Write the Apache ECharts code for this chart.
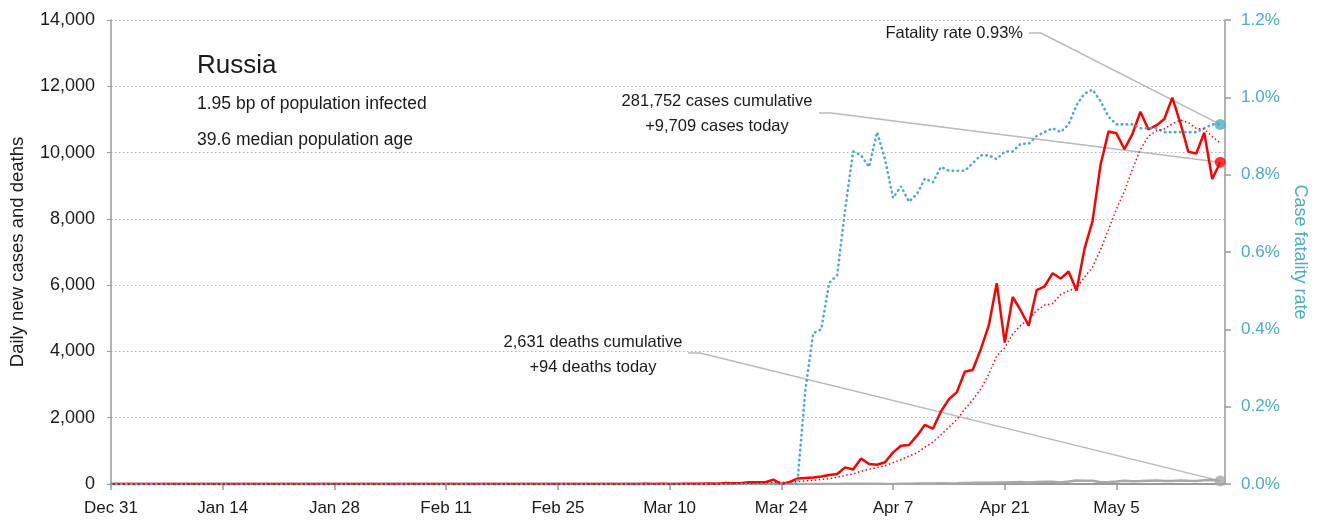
<!DOCTYPE html>
<html><head><meta charset="utf-8">
<script src="https://cdn.jsdelivr.net/npm/echarts@6/dist/echarts.min.js"></script>
<style>html,body{margin:0;padding:0;background:#fff}#c{width:1319px;height:527px}</style>
</head><body><div id="c"></div>
<script>
const FONT = "'Liberation Sans Narrow','Liberation Sans',Arial,sans-serif";
const BLUE = '#4bacc6', RED = '#ff0000', GREY = '#a8a8a8';

// day index 0 = Dec 31, one value per day up to May 18 (index 139)
const xTickDays = [0, 14, 28, 42, 56, 70, 84, 98, 112, 126];
const xTickLabels = ['Dec 31', 'Jan 14', 'Jan 28', 'Feb 11', 'Feb 25', 'Mar 10', 'Mar 24', 'Apr 7', 'Apr 21', 'May 5'];

const cases = [
  0,0,0,0,0,0,0,0,0,0,
  0,0,0,0,0,0,0,0,0,0,
  0,0,0,0,0,0,0,0,0,0,
  0,2,0,0,0,0,0,0,0,0,
  0,0,0,0,0,0,0,0,0,0,
  0,0,0,0,0,0,0,0,0,0,
  0,0,0,1,0,0,1,6,3,4,
  0,3,8,6,11,14,4,30,21,33,
  52,54,53,132,0,57,163,182,196,228,
  270,302,501,440,771,601,582,658,954,1154,
  1175,1459,1786,1667,2186,2558,2774,3388,3448,4070,
  4785,6060,4268,5642,5236,4774,5849,5966,6361,6198,
  6411,5841,7099,7933,9623,10633,10581,10102,10559,11231,
  10699,10817,11012,11656,10899,10028,9974,10598,9200,9709
];

const casesAvg7 = [
  null,null,null,null,null,null,0,0,0,0,
  0,0,0,0,0,0,0,0,0,0,
  0,0,0,0,0,0,0,0,0,0,
  0,0.3,0.3,0.3,0.3,0.3,0.3,0.3,0,0,
  0,0,0,0,0,0,0,0,0,0,
  0,0,0,0,0,0,0,0,0,0,
  0,0,0,0.1,0.1,0.1,0.3,1.1,1.6,2.1,
  2.0,2.4,3.6,4.3,5.0,6.6,6.6,10.9,13.4,17.0,
  23.6,29.7,35.3,53.6,49.3,54.4,73,92,112,137,
  157,200,263,303,387,445,495,551,644,737,
  842,940,1110,1265,1483,1712,1944,2260,2544,2870,
  3316,3869,4113,4523,4787,4976,5231,5399,5442,5718,
  5828,5914,6246,6544,7067,7677,8303,8830,9504,10095,
  10490,10660,10714,10868,10982,10906,10726,10712,10481,10295
];

const deaths = [
  0,0,0,0,0,0,0,0,0,0,
  0,0,0,0,0,0,0,0,0,0,
  0,0,0,0,0,0,0,0,0,0,
  0,0,0,0,0,0,0,0,0,0,
  0,0,0,0,0,0,0,0,0,0,
  0,0,0,0,0,0,0,0,0,0,
  0,0,0,0,0,0,0,0,0,0,
  0,0,0,0,0,0,0,0,0,0,
  0,0,0,0,0,0,0,2,2,1,
  3,2,7,7,6,4,9,2,2,11,
  5,13,18,12,24,18,22,28,34,41,
  40,48,44,51,57,42,60,66,66,47,
  73,105,101,96,53,58,76,95,86,88,
  98,104,88,94,107,96,93,113,119,94
];

// case fatality rate, percent
const fatalityRate = [
  0,0,0,0,0,0,0,0,0,0,
  0,0,0,0,0,0,0,0,0,0,
  0,0,0,0,0,0,0,0,0,0,
  0,0,0,0,0,0,0,0,0,0,
  0,0,0,0,0,0,0,0,0,0,
  0,0,0,0,0,0,0,0,0,0,
  0,0,0,0,0,0,0,0,0,0,
  0,0,0,0,0,0,0,0,0,0,
  0,0,0,0,0,0,0,0.24,0.39,0.40,
  0.52,0.54,0.71,0.86,0.85,0.82,0.91,0.84,0.74,0.77,
  0.73,0.75,0.79,0.78,0.82,0.81,0.81,0.81,0.83,0.85,
  0.85,0.84,0.86,0.86,0.88,0.88,0.90,0.91,0.92,0.91,
  0.93,0.98,1.01,1.02,0.99,0.95,0.93,0.93,0.93,0.92,
  0.92,0.92,0.91,0.91,0.91,0.91,0.91,0.92,0.93,0.93
];

const leftTicks = [0, 2000, 4000, 6000, 8000, 10000, 12000, 14000];
const rightTicks = [0, 0.2, 0.4, 0.6, 0.8, 1.0, 1.2];

const titleText = 'Russia';
const subLines = ['1.95 bp of population infected', '39.6 median population age'];
const fatalityNote = 'Fatality rate 0.93%';
const casesNote = ['281,752 cases cumulative', '+9,709 cases today'];
const deathsNote = ['2,631 deaths cumulative', '+94 deaths today'];

const last = cases.length - 1;
const pairs = arr => arr.map((v, i) => [i, v]);

const chart = echarts.init(document.getElementById('c'), null, {renderer: 'canvas'});
const txt = (x, y, text, size, align) => ({
  type: 'text', x: x, y: y, z: 10,
  style: {text: text, x: 0, y: 0, fill: '#1a1a1a', font: size + 'px ' + FONT, textAlign: align, textVerticalAlign: 'middle'}
});

const option = {
  animation: false,
  backgroundColor: '#fff',
  grid: {left: 109, right: 94, top: 20, bottom: 43, containLabel: false},
  xAxis: {
    type: 'value', min: 0, max: 139.6, interval: 14,
    axisLine: {show: true, onZero: false, lineStyle: {color: '#999', width: 2}},
    axisTick: {show: true, length: 6, lineStyle: {color: '#999', width: 1.5}, customValues: xTickDays},
    axisLabel: {
      customValues: xTickDays,
      formatter: v => { const k = xTickDays.indexOf(v); return k >= 0 ? xTickLabels[k] : ''; },
      color: '#1a1a1a', fontSize: 17, fontFamily: FONT, margin: 16
    },
    splitLine: {show: false}
  },
  yAxis: [{
    type: 'value', min: 0, max: 14000, interval: 2000, position: 'left',
    name: 'Daily new cases and deaths', nameLocation: 'middle', nameRotate: 90, nameGap: 84,
    nameTextStyle: {color: '#1a1a1a', fontSize: 18.5, fontFamily: FONT},
    axisLine: {show: true, lineStyle: {color: '#999', width: 1.5}},
    axisTick: {show: true, length: 4, lineStyle: {color: '#999'}},
    axisLabel: {formatter: v => v.toLocaleString('en-US'), color: '#1a1a1a', fontSize: 18, fontFamily: FONT, margin: 16},
    splitLine: {show: true, lineStyle: {color: '#b5b5b5', type: [1.5, 2.5], width: 1}}
  }, {
    type: 'value', min: 0, max: 1.2, interval: 0.2, position: 'right',
    name: 'Case fatality rate', nameLocation: 'middle', nameRotate: -90, nameGap: 62,
    nameTextStyle: {color: BLUE, fontSize: 18, fontFamily: FONT},
    axisLine: {show: true, lineStyle: {color: '#999', width: 1.5}},
    axisTick: {show: true, length: 6, lineStyle: {color: '#999', width: 1.5}},
    axisLabel: {formatter: v => v.toFixed(1) + '%', color: BLUE, fontSize: 17, fontFamily: FONT, margin: 16},
    splitLine: {show: false}
  }],
  series: [
    {name: 'deaths', type: 'line', data: pairs(deaths), yAxisIndex: 0, showSymbol: false, z: 2,
     lineStyle: {color: GREY, width: 2.5}},
    {name: 'cases', type: 'line', data: pairs(cases), yAxisIndex: 0, showSymbol: false, z: 3,
     lineStyle: {color: RED, width: 2.5}},
    {name: 'cfr', type: 'line', data: pairs(fatalityRate), yAxisIndex: 1, showSymbol: false, z: 4,
     lineStyle: {color: BLUE, width: 2.6, type: [0.5, 4.5], cap: 'round'}},
    {name: 'cases avg', type: 'line', data: pairs(casesAvg7), yAxisIndex: 0, showSymbol: false, z: 5, connectNulls: false,
     lineStyle: {color: RED, width: 1.5, type: [1.5, 2.5]}},
    {type: 'scatter', yAxisIndex: 0, data: [[last, deaths[last]]], symbolSize: 11, z: 6, itemStyle: {color: GREY}},
    {type: 'scatter', yAxisIndex: 0, data: [[last, cases[last]]], symbolSize: 11, z: 6, itemStyle: {color: RED}},
    {type: 'scatter', yAxisIndex: 1, data: [[last, fatalityRate[last]]], symbolSize: 11, z: 7, itemStyle: {color: BLUE}}
  ]
};
chart.setOption(option);

const pBlue = chart.convertToPixel({xAxisIndex: 0, yAxisIndex: 1}, [last, fatalityRate[last]]);
const pRed = chart.convertToPixel({xAxisIndex: 0, yAxisIndex: 0}, [last, cases[last]]);
const pGrey = chart.convertToPixel({xAxisIndex: 0, yAxisIndex: 0}, [last, deaths[last]]);
const lead = pts => ({type: 'polyline', z: 1, shape: {points: pts}, style: {stroke: '#b9b9b9', lineWidth: 1.5, fill: null}});

chart.setOption({
  graphic: [
    lead([[1029, 33], [1041, 33], pBlue]),
    lead([[819, 113], [831, 113], pRed]),
    lead([[688, 353], [700, 353], pGrey]),
    txt(197, 66, titleText, 26, 'left'),
    txt(197, 104, subLines[0], 17.5, 'left'),
    txt(197, 140, subLines[1], 17.5, 'left'),
    txt(1023, 33, fatalityNote, 16.5, 'right'),
    txt(717, 101, casesNote[0], 16.5, 'center'),
    txt(717, 126, casesNote[1], 16.5, 'center'),
    txt(593, 342, deathsNote[0], 16.5, 'center'),
    txt(593, 367, deathsNote[1], 16.5, 'center')
  ]
});
</script></body></html>
